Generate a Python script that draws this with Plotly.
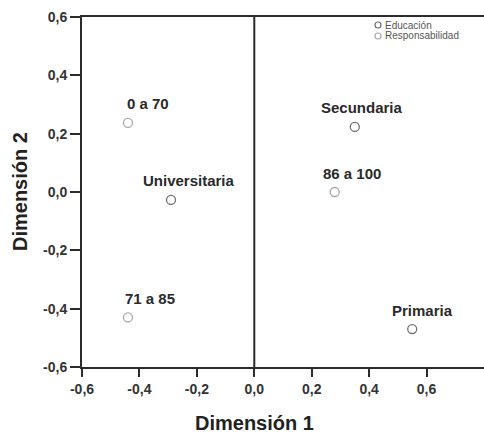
import plotly.graph_objects as go

# Category coordinates on the two dimensions
edu_labels = ["Primaria", "Secundaria", "Universitaria"]
edu_dim1 = [0.55, 0.35, -0.29]
edu_dim2 = [-0.47, 0.223, -0.027]

resp_labels = ["0 a 70", "71 a 85", "86 a 100"]
resp_dim1 = [-0.44, -0.44, 0.28]
resp_dim2 = [0.237, -0.43, 0.0]

tick_vals = [-0.6, -0.4, -0.2, 0.0, 0.2, 0.4, 0.6]
tick_text = ["-0,6", "-0,4", "-0,2", "0,0", "0,2", "0,4", "0,6"]

# horizontal label offsets (px) for the point captions
edu_dx = [10, 7, 18]
resp_dx = [20, 22, 17]

FONT = "Liberation Sans, Arial, sans-serif"
AX = "#2b2b2b"
EDU_COLOR = "#6f6f6f"
RESP_COLOR = "#a8a8a8"

fig = go.Figure()
fig.add_trace(go.Scatter(
    x=edu_dim1, y=edu_dim2, mode="markers", name="Educación",
    marker=dict(symbol="circle-open", size=9, color=EDU_COLOR, line=dict(width=1.3)),
))
fig.add_trace(go.Scatter(
    x=resp_dim1, y=resp_dim2, mode="markers", name="Responsabilidad",
    marker=dict(symbol="circle-open", size=9, color=RESP_COLOR, line=dict(width=1.3)),
))

for labels, xs, ys, dxs in [(edu_labels, edu_dim1, edu_dim2, edu_dx),
                            (resp_labels, resp_dim1, resp_dim2, resp_dx)]:
    for t, x, y, dx in zip(labels, xs, ys, dxs):
        fig.add_annotation(x=x, y=y, text=f"<b>{t}</b>", showarrow=False,
                           xanchor="center", yanchor="middle",
                           xshift=dx, yshift=19,
                           font=dict(family=FONT, size=15, color="#2a2a2a"))

# vertical reference line at Dimensión 1 = 0
fig.add_shape(type="line", xref="x", yref="paper", x0=0, x1=0, y0=0, y1=1,
              line=dict(color=AX, width=2))

# compact legend in the upper right corner
for i, (name, col) in enumerate([("Educación", EDU_COLOR),
                                 ("Responsabilidad", RESP_COLOR)]):
    yc = 1 - (8 + 11 * i) / 350
    fig.add_shape(type="circle", xref="paper", yref="paper",
                  x0=(378 - 82 - 3) / 402, x1=(378 - 82 + 3) / 402,
                  y0=yc - 3 / 350, y1=yc + 3 / 350,
                  line=dict(color=col, width=1.2))
    fig.add_annotation(xref="paper", yref="paper", x=(384 - 82) / 402, y=yc,
                       text=name, showarrow=False, xanchor="left",
                       yanchor="middle", borderpad=0,
                       font=dict(family=FONT, size=10, color="#555"))

# axis titles
fig.add_annotation(xref="x", yref="paper", x=0, y=0, yshift=-56,
                   text="<b>Dimensión 1</b>", showarrow=False,
                   xanchor="center", yanchor="middle",
                   font=dict(family=FONT, size=20, color="#222"))
fig.add_annotation(xref="paper", yref="y", x=0, xshift=-62, y=0,
                   text="<b>Dimensión 2</b>", showarrow=False, textangle=-90,
                   xanchor="center", yanchor="middle",
                   font=dict(family=FONT, size=20, color="#222"))

fig.update_layout(
    width=484, height=434,
    margin=dict(l=82, r=0, t=17, b=67),
    paper_bgcolor="white", plot_bgcolor="white",
    showlegend=False,
    xaxis=dict(range=[-0.6, 0.8], tickvals=tick_vals, ticktext=tick_text,
               showgrid=False, zeroline=False, showline=True, linecolor=AX,
               linewidth=2, mirror=True, ticks="outside", ticklen=8, tickwidth=2,
               tickcolor=AX,
               tickfont=dict(family=FONT, size=14, color="#333", weight="bold")),
    yaxis=dict(range=[-0.6, 0.6], tickvals=tick_vals, ticktext=tick_text,
               showgrid=False, zeroline=False, showline=True, linecolor=AX,
               linewidth=2, mirror=False, ticks="outside", ticklen=10, tickwidth=2,
               tickcolor=AX,
               tickfont=dict(family=FONT, size=14, color="#333", weight="bold")),
)

fig.write_html("out.html")
